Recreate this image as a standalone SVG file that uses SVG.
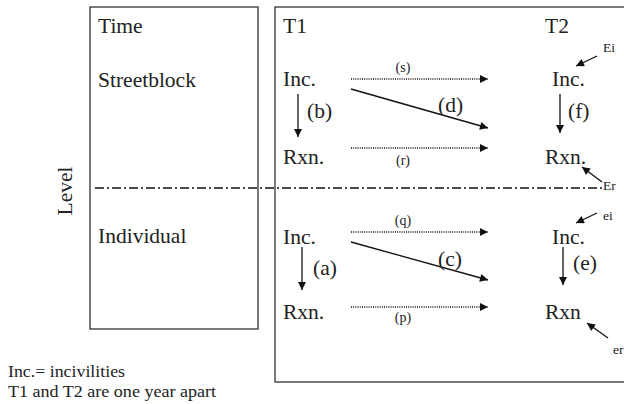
<svg xmlns="http://www.w3.org/2000/svg" width="624" height="404" viewBox="0 0 624 404">
<defs>
<style>
.big{font-size:21.5px}
.sm{font-size:14px}
.lab{font-size:13.5px}
.fn{font-size:17px}
.box{fill:none;stroke:#333;stroke-width:1.3}
.solid{stroke:#111;stroke-width:1.3;fill:none}
.dot{stroke:#111;stroke-width:1.3;fill:none;stroke-dasharray:1 1.2}
.dash{stroke:#111;stroke-width:1.5;fill:none;stroke-dasharray:9 3 2 3}
</style>
<marker id="ah" viewBox="0 0 10 10" refX="10" refY="5" markerWidth="10" markerHeight="8" markerUnits="userSpaceOnUse" orient="auto">
<path d="M0,0 L10,5 L0,10 z" fill="#111"/>
</marker>
</defs>
<g font-family="'Liberation Serif', 'DejaVu Serif', serif" fill="#222">
<g id="left-panel">
<rect class="box" x="90" y="7" width="168" height="322"/>
<text class="big" x="98" y="33">Time</text>
<text class="big" x="98" y="87">Streetblock</text>
<text class="big" x="98" y="243">Individual</text>
</g>
<g id="level-label">
<text class="big" transform="translate(72,191) rotate(-90)" text-anchor="middle">Level</text>
</g>
<g id="right-panel">
<rect class="box" x="275" y="7" width="380" height="375"/>
<text class="big" x="283" y="33">T1</text>
<text class="big" x="545" y="33">T2</text>
</g>
<g id="sb-inc-t1"><text class="big" x="283" y="86">Inc.</text></g>
<g id="sb-rxn-t1"><text class="big" x="283" y="164">Rxn.</text></g>
<g id="sb-inc-t2"><text class="big" x="552" y="86">Inc.</text></g>
<g id="sb-rxn-t2"><text class="big" x="545" y="164">Rxn.</text></g>
<g id="ind-inc-t1"><text class="big" x="283" y="244">Inc.</text></g>
<g id="ind-rxn-t1"><text class="big" x="283" y="319">Rxn.</text></g>
<g id="ind-inc-t2"><text class="big" x="552" y="244">Inc.</text></g>
<g id="ind-rxn-t2"><text class="big" x="545" y="319">Rxn</text></g>
<g id="errors">
<text class="lab" x="603" y="52">Ei</text>
<text class="lab" x="603" y="190">Er</text>
<text class="lab" x="603" y="220">ei</text>
<text class="lab" x="613" y="354">er</text>
</g>
<g id="divider">
<line class="dash" x1="95" y1="188" x2="602" y2="188"/>
</g>
<g id="connectors">
<line class="dot" x1="351" y1="79" x2="488" y2="79" marker-end="url(#ah)"/>
<line class="dot" x1="351" y1="148" x2="488" y2="148" marker-end="url(#ah)"/>
<line class="dot" x1="351" y1="232" x2="488" y2="232" marker-end="url(#ah)"/>
<line class="dot" x1="351" y1="307" x2="488" y2="307" marker-end="url(#ah)"/>
<line class="solid" x1="351" y1="89" x2="488" y2="128" marker-end="url(#ah)"/>
<line class="solid" x1="351" y1="242" x2="488" y2="280" marker-end="url(#ah)"/>
<line class="solid" x1="298" y1="94" x2="298" y2="137" marker-end="url(#ah)"/>
<line class="solid" x1="560" y1="94" x2="560" y2="133" marker-end="url(#ah)"/>
<line class="solid" x1="302" y1="247" x2="302" y2="290" marker-end="url(#ah)"/>
<line class="solid" x1="563" y1="247" x2="563" y2="285" marker-end="url(#ah)"/>
<line class="solid" x1="597" y1="56" x2="576" y2="66" marker-end="url(#ah)"/>
<line class="solid" x1="602" y1="182" x2="582" y2="167" marker-end="url(#ah)"/>
<line class="solid" x1="597" y1="213" x2="576" y2="223" marker-end="url(#ah)"/>
<line class="solid" x1="608" y1="338" x2="587" y2="323" marker-end="url(#ah)"/>
<text class="sm" x="403" y="72" text-anchor="middle">(s)</text>
<text class="sm" x="403" y="165" text-anchor="middle">(r)</text>
<text class="sm" x="403" y="225" text-anchor="middle">(q)</text>
<text class="sm" x="403" y="322" text-anchor="middle">(p)</text>
<text class="big" x="438" y="112">(d)</text>
<text class="big" x="438" y="266">(c)</text>
<text class="big" x="307" y="118">(b)</text>
<text class="big" x="568" y="118">(f)</text>
<text class="big" x="313" y="275">(a)</text>
<text class="big" x="573" y="270">(e)</text>
</g>
<g id="footnote">
<text class="fn" x="8" y="377" textLength="117" lengthAdjust="spacingAndGlyphs">Inc.= incivilities</text>
<text class="fn" x="8" y="397" textLength="208" lengthAdjust="spacingAndGlyphs">T1 and T2 are one year apart</text>
</g>
</g>
</svg>
